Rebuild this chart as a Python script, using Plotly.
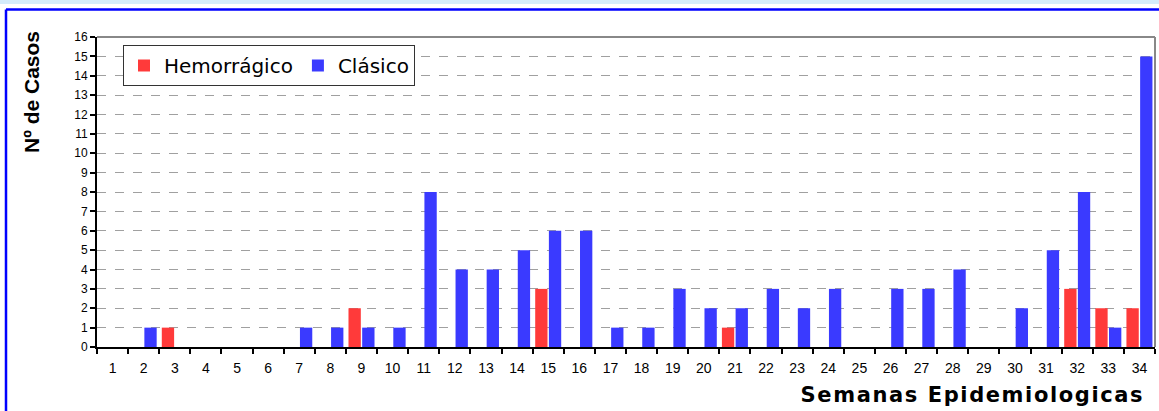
import plotly.graph_objects as go

weeks = [str(i) for i in range(1, 35)]
hemorragico = [0, 0, 1, 0, 0, 0, 0, 0, 2, 0, 0, 0, 0, 0, 3, 0, 0, 0, 0, 0,
               1, 0, 0, 0, 0, 0, 0, 0, 0, 0, 0, 3, 2, 2]
clasico = [0, 1, 0, 0, 0, 0, 1, 1, 1, 1, 8, 4, 4, 5, 6, 6, 1, 1, 3, 2,
           2, 3, 2, 3, 0, 3, 3, 4, 0, 2, 5, 8, 1, 15]
y_ticks = list(range(0, 17))

fig = go.Figure()
fig.add_trace(go.Bar(x=weeks, y=hemorragico, name="Hemorrágico",
                     marker=dict(color="#ff3a3a", line=dict(width=0))))
fig.add_trace(go.Bar(x=weeks, y=clasico, name="Clásico",
                     marker=dict(color="#3a3aff", line=dict(width=0))))

W, H = 1159, 411
ml, mr, mt, mb = 97, 4, 37, 64
PW = W - ml - mr
PH = H - mt - mb

fig.update_layout(
    width=W, height=H,
    margin=dict(l=ml, r=mr, t=mt, b=mb),
    paper_bgcolor="white", plot_bgcolor="white",
    barmode="group", bargap=0.12, bargroupgap=0.1,
    font=dict(family="Liberation Sans, Arial, sans-serif", color="black"),
    showlegend=True,
    legend=dict(orientation="h", x=(123 - ml) / PW, y=(H - mb - 45) / PH,
                xanchor="left", yanchor="top",
                bgcolor="white", bordercolor="#333333", borderwidth=1,
                font=dict(size=20, family="DejaVu Sans, sans-serif"),
                itemwidth=30, traceorder="normal"),
    xaxis=dict(type="category", tickson="boundaries", ticks="outside", ticklen=5,
               tickwidth=2, tickcolor="black", showline=True, linecolor="black",
               linewidth=2, tickfont=dict(size=14), showgrid=False, fixedrange=True,
               ticklabelstandoff=7),
    yaxis=dict(range=[0, 16], tickvals=y_ticks, ticks="outside", ticklen=5,
               tickwidth=2, tickcolor="black", showline=True, linecolor="black",
               linewidth=2, tickfont=dict(size=12), showgrid=True,
               gridcolor="#a0a0a0", griddash="dash", gridwidth=1, zeroline=False),
    shapes=[
        dict(type="rect", xref="paper", yref="paper", x0=-ml / PW, x1=1 + mr / PW,
             y0=1 + (mt - 4) / PH, y1=1 + mt / PH,
             fillcolor="#d4ecfb", line=dict(width=0), layer="below"),
        dict(type="line", xref="paper", yref="paper", x0=(6 - ml) / PW, x1=1 + mr / PW,
             y0=1 + (mt - 9.5) / PH, y1=1 + (mt - 9.5) / PH,
             line=dict(color="#0000ff", width=2.5)),
        dict(type="line", xref="paper", yref="paper", x0=(6 - ml) / PW, x1=(6 - ml) / PW,
             y0=-mb / PH, y1=1 + (mt - 9.5) / PH,
             line=dict(color="#0000ff", width=2.5)),
        dict(type="line", xref="paper", yref="paper", x0=0, x1=1, y0=1, y1=1,
             line=dict(color="#888888", width=2)),
        dict(type="line", xref="paper", yref="paper", x0=1, x1=1, y0=0, y1=1,
             line=dict(color="#888888", width=2)),
    ],
    annotations=[
        dict(text="<b>Nº de Casos</b>", textangle=-90, xref="paper", yref="paper",
             x=(32 - ml) / PW, y=(H - mb - 92) / PH,
             xanchor="center", yanchor="middle", showarrow=False,
             font=dict(size=21, family="Liberation Sans Narrow, Arial Narrow, Liberation Sans, sans-serif")),
        dict(text="<b>Semanas Epidemiologicas</b>", xref="paper", yref="paper",
             x=(972 - ml) / PW, y=-(395 - (H - mb)) / PH,
             xanchor="center", yanchor="middle", showarrow=False,
             font=dict(size=21, family="DejaVu Sans, sans-serif")),
    ],
)

post = """
document.querySelectorAll('.annotation-text').forEach(function(e){
  if (e.textContent.indexOf('Semanas') >= 0) { e.style.letterSpacing = '1.6px'; }
});
"""
fig.write_html("out.html", config={"displayModeBar": False}, post_script=post)
